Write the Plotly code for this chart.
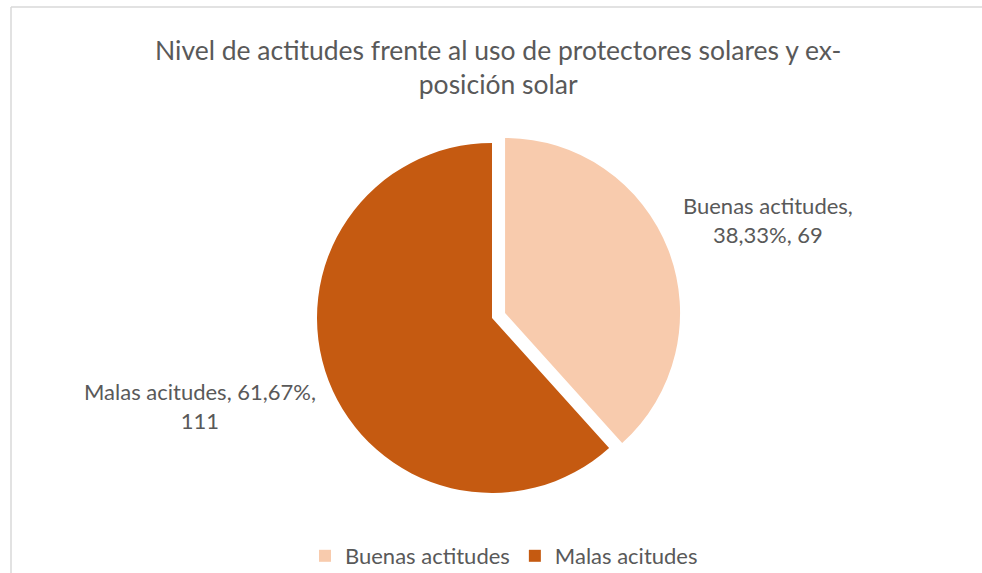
import plotly.graph_objects as go

categories = ["Buenas actitudes", "Malas acitudes"]
counts = [69, 111]
colors = ["#F8CBAD", "#C55A11"]
pulls = [0.08, 0]
title_text = "Nivel de actitudes frente al uso de protectores solares y ex-<br>posición solar"

W, H = 982, 573
total = sum(counts)
pcts = [c / total * 100 for c in counts]


def fmt_pct(p):
    return f"{p:.2f}".replace(".", ",") + "%"


fig = go.Figure()
fig.add_trace(go.Pie(
    labels=categories, values=counts,
    marker=dict(colors=colors, line=dict(width=0)),
    pull=pulls, sort=False, direction="clockwise", rotation=0,
    textinfo="none", hoverinfo="label+value+percent",
    domain=dict(x=[303 / W, 681 / W], y=[(H - 507) / H, (H - 129) / H]),
))


def add_text(px, py, txt, size):
    fig.add_annotation(x=px / W, y=(H - py) / H, xref="paper", yref="paper",
                       xanchor="center", yanchor="middle",
                       text=txt, showarrow=False, align="center",
                       font=dict(family="Lato", size=size, color="#595959"))


add_text(498, 67, title_text, 26.5)

# data labels (Excel style, no leader lines)
label_text = [
    f"{categories[0]},<br>{fmt_pct(pcts[0])}, {counts[0]}",
    f"{categories[1]}, {fmt_pct(pcts[1])},<br>{counts[1]}",
]
label_pos = [(768, 220), (200, 406)]
for txt, (px, py) in zip(label_text, label_pos):
    add_text(px, py, txt, 22)

# chart-area border (partly cut off at right/bottom)
fig.add_shape(type="line", xref="paper", yref="paper",
              x0=11 / W, x1=1.0, y0=(H - 7) / H, y1=(H - 7) / H,
              line=dict(color="#D9D9D9", width=1.5))
fig.add_shape(type="line", xref="paper", yref="paper",
              x0=11 / W, x1=11 / W, y0=0, y1=(H - 7) / H,
              line=dict(color="#D9D9D9", width=1.5))

fig.update_layout(
    width=W, height=H,
    margin=dict(l=0, r=0, t=0, b=0, autoexpand=False),
    paper_bgcolor="white", plot_bgcolor="white",
    legend=dict(orientation="h", x=504 / W, xanchor="center",
                y=(H - 556) / H, yanchor="middle",
                font=dict(family="Lato", size=22, color="#595959"),
                itemwidth=30, tracegroupgap=0),
    showlegend=True,
)

fig.write_html("out.html", config={"displayModeBar": False},
               post_script="document.body.style.margin='0';")
